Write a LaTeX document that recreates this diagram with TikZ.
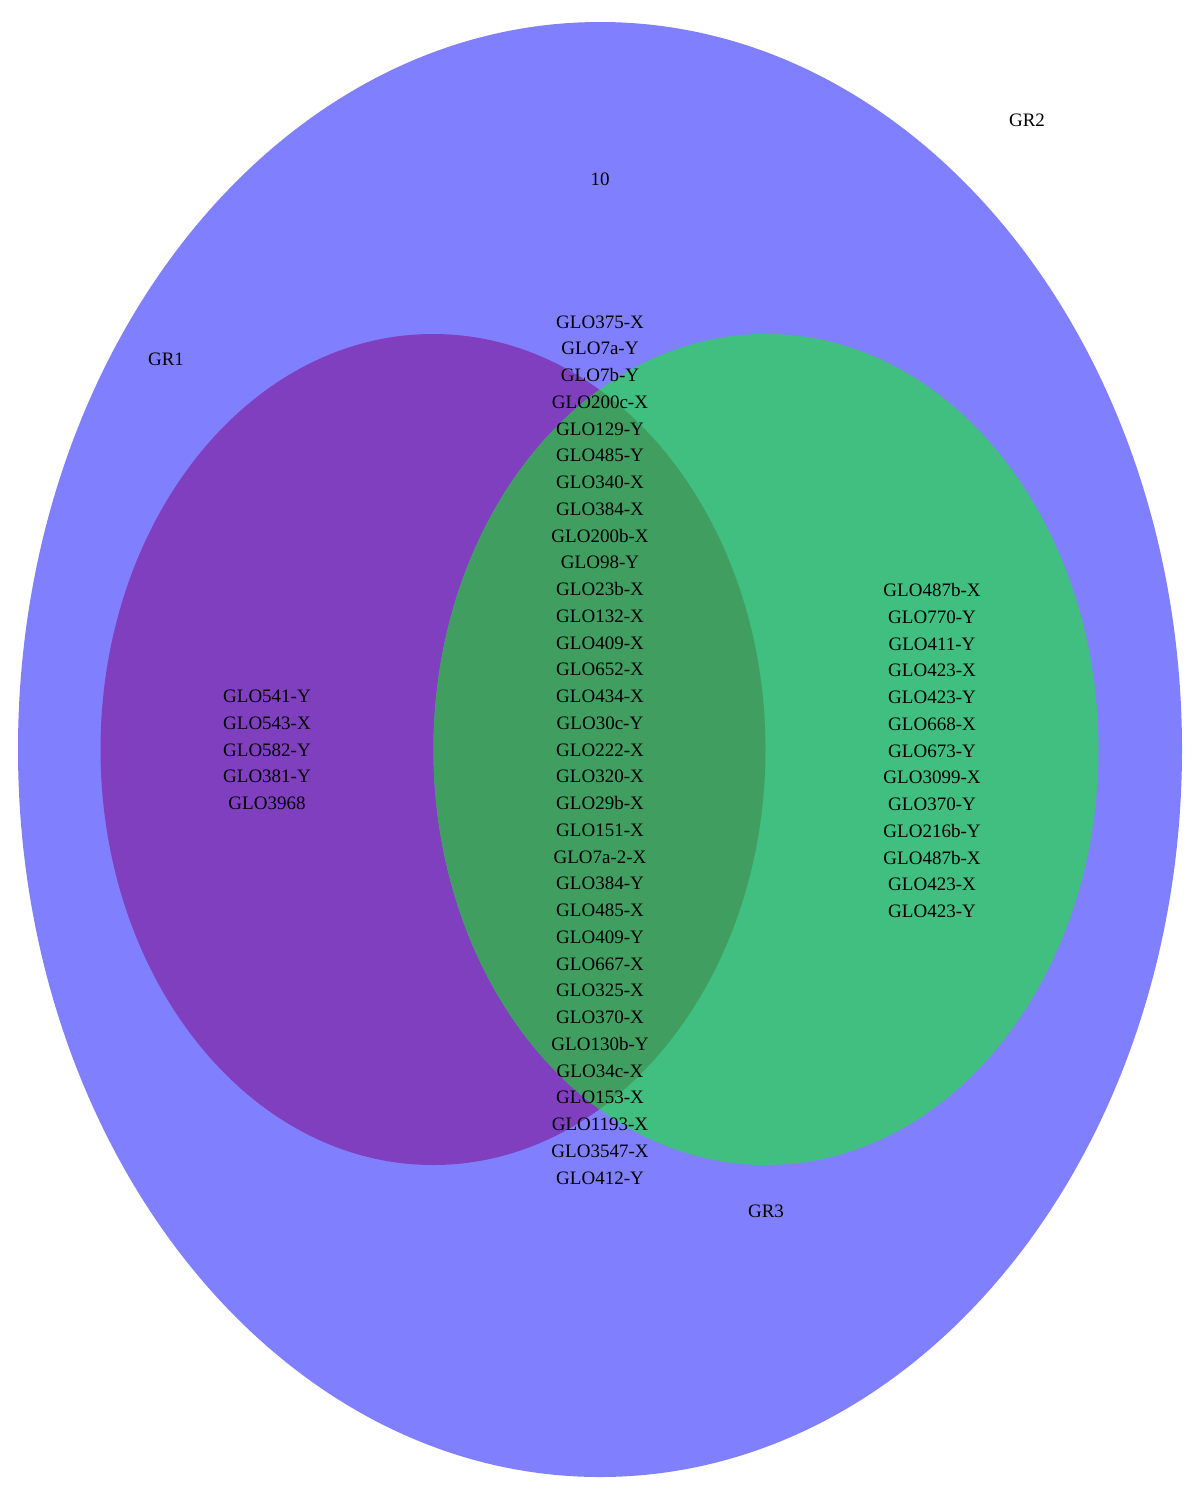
\documentclass[tikz,border=0pt]{standalone}
\usepackage{fontspec}
\setmainfont{Liberation Serif}
\definecolor{gbig}{HTML}{8080FF}
\definecolor{gpurple}{HTML}{7F3FBF}
\definecolor{ggreen}{HTML}{40BF80}
\definecolor{gover}{HTML}{409F60}
\begin{document}
\begin{tikzpicture}[x=1pt,y=-1pt,
  lst/.style={align=center,text=black,inner sep=0pt,font=\fontsize{19}{26.75}\selectfont},
  lbl/.style={text=black,inner sep=0pt,font=\fontsize{19}{23}\selectfont}]
\useasboundingbox (0,0) rectangle (1200,1500);
\fill[white] (0,0) rectangle (1200,1500);
% ellipses
\fill[gbig] (600,749.5) ellipse [x radius=582, y radius=727.5];
\fill[gpurple] (433,749.5) ellipse [x radius=332.5, y radius=415.5];
\fill[ggreen] (766,749.5) ellipse [x radius=332.5, y radius=415.5];
\begin{scope}
  \clip (433,749.5) ellipse [x radius=332.5, y radius=415.5];
  \fill[gover] (766,749.5) ellipse [x radius=332.5, y radius=415.5];
\end{scope}
% labels
\node[lbl] (gr2) at (1027,120) {GR2};
\node[lbl] (n10) at (600,179) {10};
\node[lbl] (gr1) at (166,359) {GR1};
\node[lbl] (gr3) at (766,1211) {GR3};
% lists
\node[lst] (left) at (267,750) {GLO541-Y\\GLO543-X\\GLO582-Y\\GLO381-Y\\GLO3968};
\node[lst] (mid) at (600,750) {GLO375-X\\GLO7a-Y\\GLO7b-Y\\GLO200c-X\\GLO129-Y\\GLO485-Y\\GLO340-X\\GLO384-X\\GLO200b-X\\GLO98-Y\\GLO23b-X\\GLO132-X\\GLO409-X\\GLO652-X\\GLO434-X\\GLO30c-Y\\GLO222-X\\GLO320-X\\GLO29b-X\\GLO151-X\\GLO7a-2-X\\GLO384-Y\\GLO485-X\\GLO409-Y\\GLO667-X\\GLO325-X\\GLO370-X\\GLO130b-Y\\GLO34c-X\\GLO153-X\\GLO1193-X\\GLO3547-X\\GLO412-Y};
\node[lst] (right) at (932,750.5) {GLO487b-X\\GLO770-Y\\GLO411-Y\\GLO423-X\\GLO423-Y\\GLO668-X\\GLO673-Y\\GLO3099-X\\GLO370-Y\\GLO216b-Y\\GLO487b-X\\GLO423-X\\GLO423-Y};
\end{tikzpicture}
\end{document}
